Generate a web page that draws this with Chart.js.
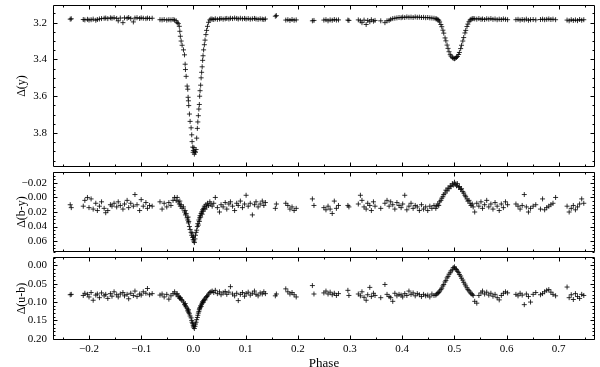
<!DOCTYPE html>
<html>
<head>
<meta charset="utf-8">
<script src="https://cdn.jsdelivr.net/npm/chart.js@4"></script>
<style>
  html, body { margin: 0; padding: 0; background: #fff; }
  #wrap { position: relative; width: 600px; height: 367px; overflow: hidden; }
  #wrap canvas { position: absolute; left: 0; }
</style>
</head>
<body>
<div id="wrap">
  <canvas id="js--panelY" width="600" height="172" style="top:0px"></canvas>
  <canvas id="js--panelBY" width="600" height="90" style="top:167px"></canvas>
  <canvas id="js--panelUB" width="600" height="115" style="top:252px"></canvas>
</div>
<script>
// orbital phase of each observation (shared by the three panels)
const phase = [
  -0.236, -0.234,
  -0.211, -0.208, -0.203, -0.2, -0.196, -0.192, -0.187, -0.184, -0.18, -0.176, -0.171, -0.168, -0.164, -0.159, -0.156, -0.152, -0.147, -0.144, -0.14, -0.135, -0.132, -0.127, -0.124, -0.12, -0.115, -0.112, -0.108, -0.103, -0.1, -0.096, -0.091, -0.088, -0.084, -0.079,
  -0.064, -0.06, -0.056, -0.051, -0.047, -0.043, -0.039, -0.036,
  -0.033, -0.031, -0.029, -0.027, -0.026, -0.025, -0.0235, -0.0216, -0.019, -0.017, -0.0158, -0.0152, -0.0139, -0.012, -0.0108, -0.0101, -0.0095, -0.0089, -0.0076, -0.0063, -0.0044, -0.0032, -0.0025, -0.0013, -0.0005, 0.0, 0.001, 0.0019, 0.003, 0.004, 0.0051, 0.0063, 0.0076, 0.0085, 0.0095, 0.0105, 0.0114, 0.012, 0.0128, 0.0139, 0.0148, 0.0158, 0.0168, 0.0177, 0.0185, 0.0196, 0.021, 0.0223, 0.024, 0.0253, 0.027, 0.0291, 0.0315, 0.0337,
  0.036, 0.039, 0.042, 0.046, 0.05, 0.053, 0.057, 0.061, 0.064, 0.068, 0.071, 0.075, 0.079, 0.083, 0.086, 0.09, 0.094, 0.098, 0.101, 0.105, 0.109, 0.113, 0.117, 0.12, 0.124, 0.128, 0.132, 0.135, 0.138,
  0.157, 0.159,
  0.177, 0.181, 0.185, 0.189, 0.193, 0.197,
  0.228, 0.231,
  0.25, 0.254, 0.258, 0.262, 0.266, 0.27, 0.274, 0.278,
  0.296, 0.298,
  0.316, 0.32, 0.323, 0.327, 0.331, 0.334, 0.338, 0.341, 0.345, 0.348,
  0.359,
  0.367, 0.371, 0.375, 0.378, 0.382, 0.386, 0.39, 0.394, 0.398, 0.401, 0.405, 0.409, 0.413, 0.417, 0.421, 0.425, 0.429, 0.433, 0.437, 0.441, 0.445, 0.449, 0.453, 0.457, 0.461,
  0.4645, 0.4662, 0.4683, 0.4701, 0.4718, 0.4742, 0.4759, 0.4781, 0.4797, 0.4822, 0.4838, 0.4861, 0.4879, 0.4898, 0.4921, 0.4937, 0.4962, 0.4979, 0.5003, 0.5018, 0.5041, 0.5059, 0.5082, 0.5097, 0.5121, 0.5138, 0.5162, 0.5179, 0.5203, 0.5218, 0.5242, 0.5259, 0.5281, 0.5302, 0.5319, 0.5342, 0.5361,
  0.539, 0.543, 0.547, 0.551, 0.554, 0.558, 0.562, 0.566, 0.57, 0.574, 0.578, 0.582, 0.586, 0.59, 0.594, 0.598, 0.602,
  0.618, 0.622, 0.626, 0.63, 0.634, 0.638, 0.642, 0.646, 0.651, 0.656,
  0.665, 0.669, 0.673, 0.677, 0.681, 0.685, 0.689, 0.694,
  0.716, 0.72, 0.724, 0.728, 0.732, 0.736, 0.74, 0.744, 0.748
];

// Δ(y)
const deltaY = [
  3.181, 3.179,
  3.183, 3.185, 3.182, 3.186, 3.184, 3.181, 3.187, 3.183, 3.18, 3.178, 3.176, 3.175, 3.178, 3.174, 3.176, 3.173, 3.177, 3.19, 3.175, 3.2, 3.174, 3.176, 3.172, 3.178, 3.196, 3.175, 3.173, 3.177, 3.174, 3.176, 3.178, 3.175, 3.177, 3.176,
  3.184, 3.185, 3.183, 3.186, 3.184, 3.185, 3.183, 3.186,
  3.190, 3.200, 3.205, 3.220, 3.247, 3.274, 3.300, 3.323, 3.348, 3.375, 3.426, 3.455, 3.492, 3.545, 3.562, 3.606, 3.625, 3.651, 3.697, 3.737, 3.772, 3.810, 3.847, 3.877, 3.905, 3.895, 3.880, 3.915, 3.900, 3.905, 3.890, 3.828, 3.775, 3.740, 3.706, 3.670, 3.645, 3.600, 3.570, 3.540, 3.500, 3.470, 3.440, 3.405, 3.380, 3.348, 3.320, 3.295, 3.265, 3.242, 3.220, 3.198, 3.185, 3.180,
  3.181, 3.183, 3.179, 3.182, 3.18, 3.178, 3.181, 3.179, 3.177, 3.18, 3.176, 3.178, 3.175, 3.177, 3.18, 3.176, 3.179, 3.177, 3.18, 3.178, 3.181, 3.179, 3.177, 3.18, 3.182, 3.179, 3.181, 3.183, 3.18,
  3.165, 3.162,
  3.186, 3.184, 3.188, 3.183, 3.187, 3.185,
  3.19, 3.188,
  3.186, 3.184, 3.19, 3.185, 3.187, 3.183, 3.186, 3.185,
  3.186, 3.188,
  3.185, 3.19, 3.2, 3.186, 3.21, 3.188, 3.195, 3.184, 3.192, 3.188,
  3.19,
  3.2, 3.19, 3.188, 3.182, 3.178, 3.176, 3.174, 3.172, 3.173, 3.17, 3.172, 3.169, 3.171, 3.17, 3.172, 3.169, 3.171, 3.17, 3.172, 3.171, 3.173, 3.172, 3.174, 3.175, 3.176,
  3.179, 3.180, 3.183, 3.187, 3.196, 3.210, 3.222, 3.241, 3.257, 3.283, 3.299, 3.322, 3.340, 3.358, 3.374, 3.382, 3.390, 3.394, 3.396, 3.393, 3.389, 3.384, 3.373, 3.362, 3.341, 3.323, 3.300, 3.281, 3.256, 3.242, 3.221, 3.208, 3.195, 3.186, 3.182, 3.179, 3.178,
  3.179, 3.181, 3.178, 3.182, 3.18, 3.183, 3.179, 3.181, 3.178, 3.182, 3.18, 3.184, 3.181, 3.183, 3.18, 3.182, 3.184,
  3.184, 3.182, 3.186, 3.183, 3.185, 3.181, 3.187, 3.184, 3.183, 3.185,
  3.183, 3.181, 3.184, 3.182, 3.18, 3.183, 3.181, 3.184,
  3.186, 3.19, 3.184, 3.188, 3.185, 3.189, 3.183, 3.187, 3.184
];

// Δ(b-y)
const deltaBY = [
  0.010, 0.014,
  0.012, 0.004, 0.0, 0.014, 0.002, 0.016, 0.008, 0.018, 0.012, 0.006, 0.015, 0.021, 0.018, 0.01, 0.012, 0.008, 0.013, 0.006, 0.011, 0.016, 0.009, 0.004, 0.014, 0.008, 0.012, -0.004, 0.01, 0.018, 0.003, 0.012, 0.007, 0.015, 0.011, 0.012,
  0.006, 0.016, 0.008, 0.013, 0.007, 0.011, 0.004, 0.0,
  0.004, 0.000, 0.006, 0.009, 0.005, 0.012, 0.010, 0.015, 0.013, 0.020, 0.018, 0.024, 0.022, 0.028, 0.031, 0.027, 0.035, 0.033, 0.040, 0.044, 0.048, 0.052, 0.049, 0.055, 0.058, 0.054, 0.060, 0.062, 0.057, 0.052, 0.048, 0.045, 0.040, 0.036, 0.038, 0.031, 0.033, 0.028, 0.025, 0.027, 0.022, 0.020, 0.023, 0.017, 0.019, 0.015, 0.012, 0.016, 0.010, 0.013, 0.008, 0.011, 0.006, 0.009,
  0.012, 0.008, 0.0, 0.014, 0.02, 0.01, 0.013, 0.007, 0.016, 0.009, 0.006, 0.012, 0.018, 0.008, 0.011, 0.005, 0.014, 0.009, -0.003, 0.012, 0.008, 0.024, 0.01, 0.006, 0.013, 0.009, 0.005, 0.011, 0.007,
  0.015, 0.009,
  0.008, 0.011, 0.016, 0.013, 0.018, 0.015,
  0.002, 0.011,
  0.014, 0.017, 0.012, 0.016, 0.022, 0.005, 0.015, 0.011,
  0.011, 0.013,
  0.009, -0.003, 0.004, 0.013, 0.016, 0.008, 0.011, 0.018, 0.006, 0.012,
  0.015,
  0.008, 0.004, 0.012, 0.006, 0.01, 0.016, 0.007, 0.011, 0.014, 0.009, -0.003, 0.017, 0.012, 0.008, 0.015, 0.011, 0.013, 0.018, 0.01, 0.016, 0.013, 0.018, 0.012, 0.015, 0.011,
  0.015, 0.012, 0.009, 0.011, 0.006, 0.004, 0.001, -0.001, -0.004, -0.006, -0.010, -0.009, -0.013, -0.012, -0.016, -0.015, -0.019, -0.017, -0.021, -0.018, -0.016, -0.019, -0.014, -0.015, -0.011, -0.012, -0.008, -0.006, -0.003, -0.001, 0.002, 0.005, 0.004, 0.008, 0.011, 0.009, 0.013,
  0.02, 0.008, 0.012, 0.006, 0.015, 0.01, 0.004, 0.013, 0.009, 0.016, 0.007, 0.012, 0.018, 0.009, 0.014, 0.006, 0.01,
  0.009, 0.012, 0.016, 0.011, -0.004, 0.013, 0.02, 0.015, 0.012, 0.01,
  0.016, 0.002, 0.017, 0.014, 0.012, 0.01, 0.008, 0.0,
  0.012, 0.02, 0.015, 0.011, 0.017, 0.013, 0.009, 0.002, 0.008
];

// Δ(u-b)
const deltaUB = [
  0.080, 0.079,
  0.082, 0.076, 0.079, 0.086, 0.074, 0.095, 0.081, 0.078, 0.088, 0.075, 0.083, 0.079, 0.09, 0.077, 0.084, 0.072, 0.08, 0.086, 0.078, 0.074, 0.083, 0.079, 0.091, 0.076, 0.082, 0.07, 0.085, 0.078, 0.081, 0.072, 0.076, 0.063, 0.08, 0.077,
  0.081, 0.078, 0.086, 0.079, 0.092, 0.083, 0.077, 0.072,
  0.080, 0.077, 0.084, 0.086, 0.090, 0.088, 0.093, 0.095, 0.100, 0.107, 0.104, 0.110, 0.113, 0.117, 0.122, 0.125, 0.121, 0.129, 0.132, 0.138, 0.143, 0.150, 0.155, 0.158, 0.163, 0.168, 0.165, 0.172, 0.166, 0.160, 0.155, 0.148, 0.142, 0.136, 0.130, 0.126, 0.121, 0.118, 0.115, 0.110, 0.112, 0.106, 0.103, 0.099, 0.101, 0.096, 0.092, 0.094, 0.088, 0.085, 0.083, 0.078, 0.074, 0.072,
  0.07, 0.074, 0.068, 0.077, 0.072, 0.08, 0.075, 0.071, 0.079, 0.073, 0.058, 0.078, 0.083, 0.076, 0.096, 0.079, 0.074, 0.084, 0.077, 0.073, 0.081, 0.076, 0.07, 0.079, 0.083, 0.075, 0.078, 0.072, 0.077,
  0.083, 0.078,
  0.064, 0.072, 0.078, 0.074, 0.08, 0.086,
  0.055, 0.078,
  0.075, 0.07, 0.078, 0.073, 0.08, 0.076, 0.082, 0.077,
  0.068, 0.082,
  0.078, 0.083, 0.072, 0.087, 0.095, 0.08, 0.06, 0.085, 0.076, 0.082,
  0.088,
  0.052, 0.079, 0.085, 0.088, 0.098, 0.076, 0.083, 0.079, 0.081, 0.086, 0.077, 0.082, 0.07, 0.079, 0.075, 0.083, 0.077, 0.08, 0.085, 0.079, 0.083, 0.081, 0.086, 0.078, 0.082,
  0.081, 0.078, 0.076, 0.074, 0.070, 0.066, 0.062, 0.056, 0.052, 0.045, 0.041, 0.034, 0.030, 0.024, 0.020, 0.015, 0.012, 0.006, 0.004, 0.009, 0.011, 0.016, 0.019, 0.025, 0.029, 0.035, 0.040, 0.046, 0.051, 0.056, 0.061, 0.066, 0.069, 0.073, 0.077, 0.079, 0.082,
  0.098, 0.103, 0.082, 0.075, 0.07, 0.078, 0.073, 0.081, 0.076, 0.084, 0.079, 0.088, 0.094, 0.082, 0.076, 0.072, 0.075,
  0.079, 0.083, 0.076, 0.081, 0.107, 0.078, 0.085, 0.1, 0.079, 0.074,
  0.08, 0.077, 0.072, 0.068, 0.066, 0.073, 0.079, 0.083,
  0.059, 0.088, 0.08, 0.093, 0.077, 0.085, 0.09, 0.079, 0.082
];

// tick labels
const xTicks = [-0.2, -0.1, 0.0, 0.1, 0.2, 0.3, 0.4, 0.5, 0.6, 0.7];
const yTicksY = [3.2, 3.4, 3.6, 3.8];
const yTicksBY = [-0.02, 0.00, 0.02, 0.04, 0.06];
const yTicksUB = [0.00, 0.05, 0.10, 0.15, 0.20];

if (deltaY.length !== phase.length || deltaBY.length !== phase.length || deltaUB.length !== phase.length) {
    console.error("length mismatch", phase.length, deltaY.length, deltaBY.length, deltaUB.length);
}

const fontFamily = "'Liberation Serif', 'DejaVu Serif', serif";
const xMin = -0.269;
const xMax = 0.7695;

function fmt(v, digits) {
    return Number(v).toFixed(digits).replace("-", "\u2212");
}

// frame with inward major/minor ticks on all four sides
const frameTicks = {
    id: "frameTicks",
    afterDatasetsDraw: function (chart, args, opts) {
        const ctx = chart.ctx;
        const a = chart.chartArea;
        const xs = chart.scales.x;
        const ys = chart.scales.y;
        ctx.save();
        ctx.strokeStyle = "#000";
        ctx.lineWidth = 1;
        ctx.beginPath();
        ctx.rect(a.left + 0.5, a.top + 0.5, a.right - a.left - 1, a.bottom - a.top - 1);
        for (let k = -6; k <= 16; k++) {
            const v = k * 0.05;
            if (v < xs.min || v > xs.max) continue;
            const len = k % 2 === 0 ? 4 : 2;
            const px = Math.round(xs.getPixelForValue(v)) + 0.5;
            ctx.moveTo(px, a.bottom - 0.5);
            ctx.lineTo(px, a.bottom - 0.5 - len);
            ctx.moveTo(px, a.top + 0.5);
            ctx.lineTo(px, a.top + 0.5 + len);
        }
        const k0 = Math.ceil(ys.min / opts.minor - 1e-6);
        const k1 = Math.floor(ys.max / opts.minor + 1e-6);
        for (let k = k0; k <= k1; k++) {
            const len = k % opts.per === 0 ? 4 : 2;
            const py = Math.round(ys.getPixelForValue(k * opts.minor)) + 0.5;
            ctx.moveTo(a.left + 0.5, py);
            ctx.lineTo(a.left + 0.5 + len, py);
            ctx.moveTo(a.right - 0.5, py);
            ctx.lineTo(a.right - 0.5 - len, py);
        }
        ctx.stroke();
        ctx.restore();
    }
};

function makePanel(id, values, yMin, yMax, yTicks, digits, minor, per, title, padTop, showX) {
    const points = phase.map(function (p, i) {
        return {x: p, y: values[i]};
    });

    const xScale = {
        type: "linear",
        min: xMin,
        max: xMax,
        display: showX,
        afterFit: function (s) {
            s.height = showX ? 27 : 0;
            s.paddingLeft = 0;
            s.paddingRight = 0;
        },
        afterBuildTicks: function (s) {
            s.ticks = xTicks.map(function (v) { return {value: v}; });
        },
        grid: {display: false, drawTicks: false},
        border: {display: false},
        ticks: {
            font: {family: fontFamily, size: 11},
            color: "#000",
            padding: 3,
            maxRotation: 0,
            autoSkip: false,
            callback: function (v) { return fmt(v, 1); }
        },
        title: {
            display: true,
            text: "Phase",
            color: "#000",
            font: {family: fontFamily, size: 13, lineHeight: 0.6},
            padding: 0
        }
    };

    const config = {
        type: "scatter",
        data: {
            datasets: [{
                data: points,
                pointStyle: "cross",
                pointRadius: 2.5,
                pointBorderWidth: 1,
                borderColor: "rgba(0,0,0,0.8)",
                backgroundColor: "rgba(0,0,0,0.8)"
            }]
        },
        options: {
            responsive: false,
            animation: false,
            events: [],
            layout: {padding: {top: padTop, bottom: showX ? 0 : 2, left: 0, right: 2}},
            plugins: {
                legend: {display: false},
                tooltip: {enabled: false},
                frameTicks: {minor: minor, per: per}
            },
            scales: {
                x: xScale,
                y: {
                    type: "linear",
                    reverse: true,
                    min: yMin,
                    max: yMax,
                    afterFit: function (s) {
                        s.width = 53;
                        s.paddingTop = 0;
                        s.paddingBottom = 0;
                    },
                    afterBuildTicks: function (s) {
                        s.ticks = yTicks.map(function (v) { return {value: v}; });
                    },
                    grid: {display: false, drawTicks: false},
                    border: {display: false},
                    ticks: {
                        font: {family: fontFamily, size: 11},
                        color: "#000",
                        padding: 6,
                        callback: function (v) { return fmt(v, digits); }
                    },
                    title: {
                        display: true,
                        text: title,
                        color: "#000",
                        font: {family: fontFamily, size: 12},
                        padding: {top: 15, bottom: 0}
                    }
                }
            }
        },
        plugins: [frameTicks]
    };

    return new Chart(document.getElementById(id), config);
}

makePanel("js--panelY", deltaY, 3.104, 3.985, yTicksY, 1, 0.05, 4, "\u0394(y)", 2, false);
makePanel("js--panelBY", deltaBY, -0.035, 0.075, yTicksBY, 2, 0.005, 4, "\u0394(b-y)", 2, false);
makePanel("js--panelUB", deltaUB, -0.0229, 0.2034, yTicksUB, 2, 0.01, 5, "\u0394(u-b)", 2, true);
</script>
</body>
</html>
